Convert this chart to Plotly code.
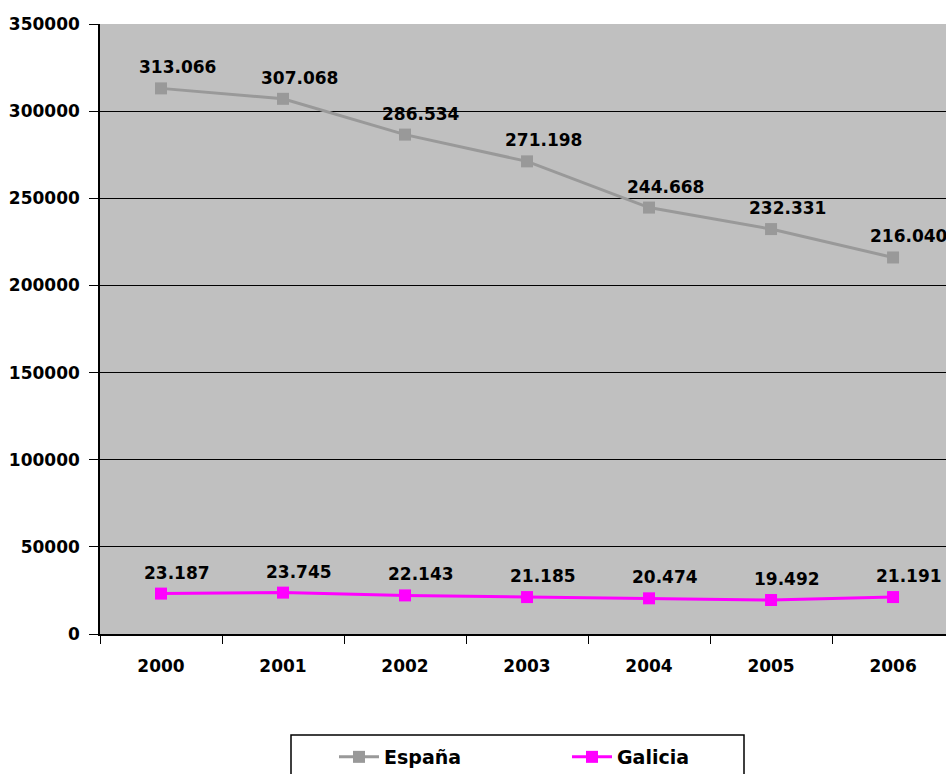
import plotly.graph_objects as go

years = ["2000", "2001", "2002", "2003", "2004", "2005", "2006"]
espana = [313066, 307068, 286534, 271198, 244668, 232331, 216040]
galicia = [23187, 23745, 22143, 21185, 20474, 19492, 21191]
series_names = ["España", "Galicia"]
y_ticks = [0, 50000, 100000, 150000, 200000, 250000, 300000, 350000]

FONT = "DejaVu Sans"


def fmt(v):
    return f"{v:,}".replace(",", ".")


fig = go.Figure()
fig.add_trace(go.Scatter(
    x=years, y=espana, name=series_names[0], mode="lines+markers",
    line=dict(color="#999999", width=3),
    marker=dict(symbol="square", size=12, color="#999999"),
))
fig.add_trace(go.Scatter(
    x=years, y=galicia, name=series_names[1], mode="lines+markers",
    line=dict(color="#FF00FF", width=3),
    marker=dict(symbol="square", size=12, color="#FF00FF"),
))

annotations = []
for series in (espana, galicia):
    for i, v in enumerate(series):
        annotations.append(dict(
            x=i, y=v, xref="x", yref="y", text=fmt(v), showarrow=False,
            xshift=16, yshift=21, xanchor="center", yanchor="middle",
            font=dict(family=FONT, size=17, color="black", weight="bold"),
        ))

fig.update_layout(
    width=946, height=774,
    margin=dict(l=100, r=0, t=24, b=140),
    paper_bgcolor="white",
    plot_bgcolor="#C0C0C0",
    font=dict(family=FONT, size=17, color="black", weight="bold"),
    annotations=annotations,
    showlegend=True,
    legend=dict(
        orientation="h", xref="container", yref="container",
        x=334 / 946, xanchor="left", y=1 - 738 / 774, yanchor="top",
        bgcolor="rgba(0,0,0,0)", borderwidth=0,
        font=dict(family=FONT, size=19, color="black", weight="bold"),
        entrywidth=178, itemwidth=40,
    ),
    shapes=[dict(
        type="rect", xref="paper", yref="paper",
        x0=(291 - 100) / 846, x1=(744 - 100) / 846,
        y0=(634 - 735) / 610, y1=(634 - 800) / 610,
        line=dict(color="black", width=1.5), fillcolor="white", layer="below",
    )],
)

fig.update_xaxes(
    type="category", range=[-0.5, 6.434],
    showline=True, linecolor="black", linewidth=1.5,
    ticks="outside", tickson="boundaries", ticklen=8, tickcolor="black",
    showgrid=False, tickfont=dict(family=FONT, size=17, weight="bold"),
    ticklabelstandoff=16,
)
fig.update_yaxes(
    range=[0, 350000], tickvals=y_ticks, ticktext=[str(t) for t in y_ticks],
    showline=True, linecolor="black", linewidth=1.5,
    ticks="outside", ticklen=9, tickcolor="black",
    showgrid=True, gridcolor="black", gridwidth=1.2, zeroline=False,
    tickfont=dict(family=FONT, size=17, weight="bold"),
    ticklabelstandoff=6,
)

fig.write_html("out.html")
